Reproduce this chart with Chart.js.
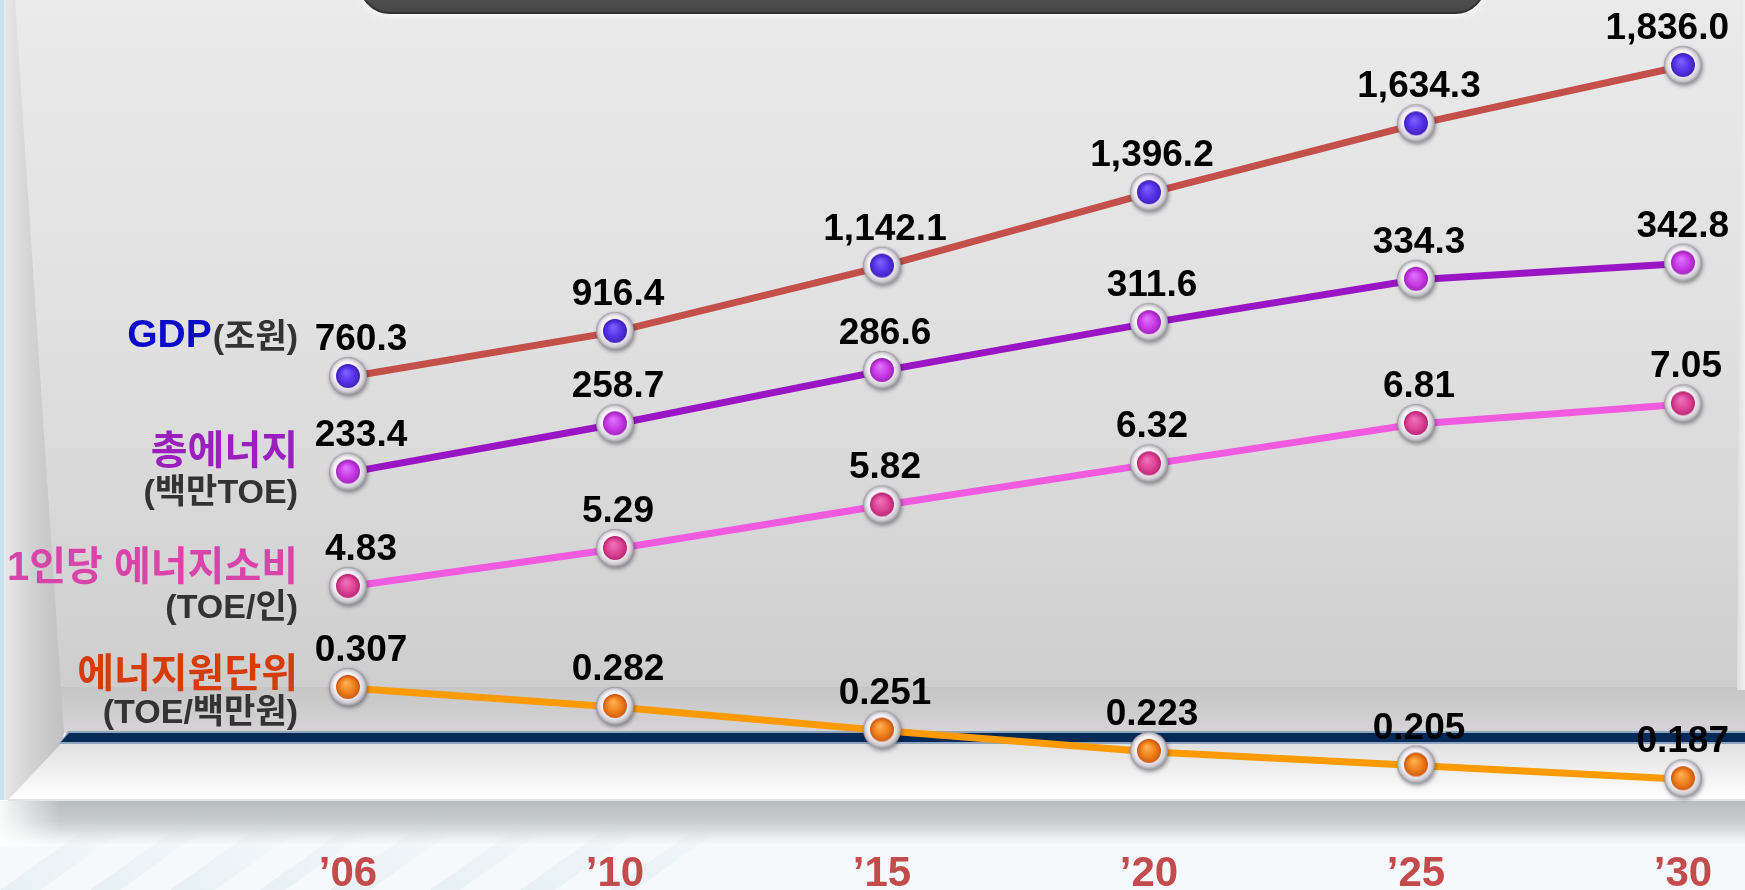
<!DOCTYPE html>
<html>
<head>
<meta charset="utf-8">
<script src="https://cdn.jsdelivr.net/npm/chart.js@4/dist/chart.umd.min.js"></script>
<style>
  html, body { margin: 0; padding: 0; background: #ffffff; overflow: hidden; }
  #wrap { width: 1745px; height: 890px; position: relative; }
  canvas { display: block; }
</style>
</head>
<body>
<div id="wrap"><canvas id="c" width="1745" height="890" style="width:1745px;height:890px"></canvas></div>
<script>
// ---------- data ----------
const years = ['’06', '’10', '’15', '’20', '’25', '’30'];
const gdp = [760.3, 916.4, 1142.1, 1396.2, 1634.3, 1836.0];          // 조원
const totalEnergy = [233.4, 258.7, 286.6, 311.6, 334.3, 342.8];      // 백만TOE
const perCapita = [4.83, 5.29, 5.82, 6.32, 6.81, 7.05];              // TOE/인
const intensity = [0.307, 0.282, 0.251, 0.223, 0.205, 0.187];        // TOE/백만원
const decimals = [1, 1, 2, 3];

const LATIN = '"Liberation Sans", Arial, sans-serif';
const KR = '"Liberation Sans", "Noto Sans CJK KR", sans-serif';

// ---------- glossy marker images ----------
function makeMarker(c1, c2, c3) {
  const s = 48, cv = document.createElement('canvas');
  cv.width = s; cv.height = s;
  const g = cv.getContext('2d');
  const cx = 24, cy = 23, R = 19;
  g.save();
  g.shadowColor = 'rgba(0,0,0,0.4)'; g.shadowBlur = 4; g.shadowOffsetX = 1; g.shadowOffsetY = 2;
  const rg = g.createRadialGradient(cx - 3, cy - 5, 2, cx, cy, R);
  rg.addColorStop(0, '#ffffff'); rg.addColorStop(0.62, '#f4f1f7'); rg.addColorStop(0.85, '#d0ced4'); rg.addColorStop(1, '#94949a');
  g.fillStyle = rg; g.beginPath(); g.arc(cx, cy, R, 0, Math.PI * 2); g.fill();
  g.restore();
  const ig = g.createRadialGradient(cx - 2, cy - 4, 1, cx, cy + 1, 12.5);
  ig.addColorStop(0, c1); ig.addColorStop(0.55, c2); ig.addColorStop(1, c3);
  g.fillStyle = ig; g.beginPath(); g.arc(cx, cy, 12, 0, Math.PI * 2); g.fill();
  return cv;
}
const mGdp = makeMarker('#7a60ff', '#5733e8', '#3d1fb4');
const mEnergy = makeMarker('#e070ff', '#c93be6', '#9a1fb5');
const mPer = makeMarker('#f070b8', '#de4598', '#b5226c');
const mInt = makeMarker('#ffae50', '#f0801c', '#c95410');

// ---------- scenery (drawn behind the chart) ----------
const scenery = {
  id: 'scenery',
  beforeDraw(chart) {
    const ctx = chart.ctx, W = chart.width, H = chart.height;
    ctx.save();
    ctx.fillStyle = '#ffffff'; ctx.fillRect(0, 0, W, H);
    // back wall
    let g = ctx.createLinearGradient(0, 0, 0, 690);
    g.addColorStop(0, '#eaeaea'); g.addColorStop(0.5, '#e0e0e0'); g.addColorStop(1, '#cecece');
    ctx.fillStyle = g; ctx.fillRect(0, 0, W, 690);
    g = ctx.createLinearGradient(0, 687, 0, 733);
    g.addColorStop(0, '#c6c6c6'); g.addColorStop(1, '#d6d4d6');
    ctx.fillStyle = g; ctx.fillRect(0, 687, W, 46);
    // floor
    g = ctx.createLinearGradient(0, 743, 0, 800);
    g.addColorStop(0, '#e0e0e0'); g.addColorStop(0.7, '#f6f6f6'); g.addColorStop(1, '#ffffff');
    ctx.fillStyle = g;
    ctx.beginPath(); ctx.moveTo(62, 743); ctx.lineTo(W, 743); ctx.lineTo(W, 800); ctx.lineTo(8, 800); ctx.closePath(); ctx.fill();
    // left side wall
    g = ctx.createLinearGradient(0, 0, 70, 0);
    g.addColorStop(0, '#ececec'); g.addColorStop(0.45, '#d2d2d2'); g.addColorStop(1, '#bdbdbd');
    ctx.fillStyle = g;
    ctx.beginPath(); ctx.moveTo(0, 0); ctx.lineTo(15, 0); ctx.lineTo(64, 733); ctx.lineTo(62, 743); ctx.lineTo(8, 800); ctx.lineTo(0, 800); ctx.closePath(); ctx.fill();
    ctx.fillStyle = '#c4e2f2'; ctx.fillRect(0, 0, 4, 800);
    // right side sliver
    g = ctx.createLinearGradient(1730, 0, 1745, 0);
    g.addColorStop(0, '#d2d2d2'); g.addColorStop(1, '#eeeeee');
    ctx.fillStyle = g;
    ctx.beginPath(); ctx.moveTo(1741, 0); ctx.lineTo(W, 0); ctx.lineTo(W, 690); ctx.lineTo(1737, 690); ctx.closePath(); ctx.fill();
    // navy base line
    ctx.fillStyle = '#8ea4bf';
    ctx.beginPath(); ctx.moveTo(68, 731); ctx.lineTo(W, 731); ctx.lineTo(W, 744); ctx.lineTo(59, 744); ctx.closePath(); ctx.fill();
    ctx.fillStyle = '#062a58';
    ctx.beginPath(); ctx.moveTo(69, 733); ctx.lineTo(W, 733); ctx.lineTo(W, 742); ctx.lineTo(61, 742); ctx.closePath(); ctx.fill();
    // floor edge + shadow band
    ctx.fillStyle = '#e4e4e4'; ctx.fillRect(8, 799, W, 2);
    g = ctx.createLinearGradient(0, 801, 0, 846);
    g.addColorStop(0, '#b8bdbe'); g.addColorStop(0.45, '#c9cdce'); g.addColorStop(1, '#fbfcfd');
    ctx.fillStyle = g; ctx.fillRect(0, 801, W, 45);
    const fade = ctx.createLinearGradient(0, 0, 60, 0);
    fade.addColorStop(0, 'rgba(255,255,255,0.9)'); fade.addColorStop(1, 'rgba(255,255,255,0)');
    ctx.fillStyle = fade; ctx.fillRect(0, 801, 60, 45);
    ctx.fillStyle = '#f6f9fb'; ctx.fillRect(0, 846, W, H - 846);
    // light blue streaks bottom-left
    ctx.globalAlpha = 0.22;
    const streaks = [[0, 40], [90, 30], [170, 45], [260, 25], [330, 40], [430, 30], [520, 35], [610, 25]];
    streaks.forEach(([x, w]) => {
      const sg = ctx.createLinearGradient(x, 890, x + 120, 810);
      sg.addColorStop(0, '#a9cfe0'); sg.addColorStop(1, 'rgba(169,207,224,0)');
      ctx.fillStyle = sg;
      ctx.beginPath(); ctx.moveTo(x, H); ctx.lineTo(x + w, H); ctx.lineTo(x + w + 110, 812); ctx.lineTo(x + 110, 812); ctx.closePath(); ctx.fill();
    });
    ctx.globalAlpha = 1;
    // title box (top, cut off)
    ctx.save();
    ctx.shadowColor = 'rgba(255,255,255,0.9)'; ctx.shadowBlur = 8; ctx.shadowOffsetY = 3;
    g = ctx.createLinearGradient(0, -40, 0, 14);
    g.addColorStop(0, '#626262'); g.addColorStop(1, '#464646');
    ctx.fillStyle = g;
    ctx.beginPath();
    if (ctx.roundRect) ctx.roundRect(360, -50, 1125, 63, 30); else ctx.rect(360, -50, 1125, 63);
    ctx.fill();
    ctx.restore();
    ctx.strokeStyle = '#333333'; ctx.lineWidth = 2;
    ctx.beginPath();
    if (ctx.roundRect) ctx.roundRect(360, -50, 1125, 63, 30); else ctx.rect(360, -50, 1125, 63);
    ctx.stroke();
    ctx.restore();
  }
};

// ---------- value labels ----------
const valueLabels = {
  id: 'valueLabels',
  afterDatasetsDraw(chart) {
    const ctx = chart.ctx;
    ctx.save();
    ctx.font = 'bold 37px ' + LATIN;
    ctx.fillStyle = '#000000';
    ctx.textAlign = 'center';
    ctx.textBaseline = 'alphabetic';
    chart.data.datasets.forEach((ds, i) => {
      const meta = chart.getDatasetMeta(i);
      const d = decimals[i];
      meta.data.forEach((pt, j) => {
        const txt = ds.data[j].toLocaleString('en-US', { minimumFractionDigits: d, maximumFractionDigits: d });
        const w = ctx.measureText(txt).width;
        let x = pt.x + (j === 0 ? 13 : 3);
        if (x + w / 2 > chart.width - 16) x = chart.width - 16 - w / 2;
        ctx.fillText(txt, x, pt.y - 27);
      });
    });
    ctx.restore();
  }
};

// ---------- series names on the left ----------
const seriesNames = {
  id: 'seriesNames',
  afterDraw(chart) {
    const ctx = chart.ctx, RX = 298;
    ctx.save();
    ctx.textAlign = 'right';
    ctx.textBaseline = 'middle';
    // GDP(조원)
    ctx.font = 'bold 34px ' + KR;
    const u = '(조원)';
    const uw = ctx.measureText(u).width;
    ctx.fillStyle = '#333333'; ctx.fillText(u, RX, 339);
    ctx.font = 'bold 39px ' + LATIN;
    ctx.fillStyle = '#0a0ac8'; ctx.fillText('GDP', RX - uw - 1, 336);
    const rows = [
      ['총에너지', '#9b1fbf', 40, 453],
      ['(백만TOE)', '#333333', 34, 494],
      ['1인당 에너지소비', '#d944aa', 40, 569],
      ['(TOE/인)', '#333333', 34, 609],
      ['에너지원단위', '#d63c08', 40, 676],
      ['(TOE/백만원)', '#333333', 34, 714]
    ];
    rows.forEach(([t, c, s, y]) => {
      ctx.font = 'bold ' + s + 'px ' + KR;
      ctx.fillStyle = c;
      ctx.fillText(t, RX, y);
    });
    ctx.restore();
  }
};

function lineSet(label, data, color, marker, axis) {
  return {
    label, data, yAxisID: axis,
    borderColor: color, borderWidth: 7, tension: 0, fill: false,
    pointStyle: marker, pointRadius: 19, pointHoverRadius: 19,
    clip: false
  };
}

new Chart(document.getElementById('c'), {
  type: 'line',
  data: {
    labels: years,
    datasets: [
      lineSet('GDP(조원)', gdp, '#c4504c', mGdp, 'yGdp'),
      lineSet('총에너지(백만TOE)', totalEnergy, '#9a16c4', mEnergy, 'yEnergy'),
      lineSet('1인당 에너지소비(TOE/인)', perCapita, '#f25ae0', mPer, 'yPer'),
      lineSet('에너지원단위(TOE/백만원)', intensity, '#ff9a00', mInt, 'yInt')
    ]
  },
  options: {
    responsive: false,
    animation: false,
    devicePixelRatio: 1,
    events: [],
    layout: { autoPadding: false, padding: { left: 348, right: 62, top: 0, bottom: -7 } },
    plugins: { legend: { display: false }, tooltip: { enabled: false }, title: { display: false } },
    scales: {
      x: {
        type: 'category', offset: false,
        grid: { display: false, drawTicks: false },
        border: { display: false },
        ticks: {
          color: '#c44b4b', padding: 2, maxRotation: 0, autoSkip: false,
          font: { family: LATIN, size: 42, weight: 'bold', lineHeight: 1.0 }
        }
      },
      yGdp: { display: false, min: -879.3, max: 2064.3 },
      yEnergy: { display: false, min: 35.4, max: 480.7 },
      yPer: { display: false, min: 1.616, max: 11.969 },
      yInt: { display: false, min: 0.0927, max: 1.2110 }
    }
  },
  plugins: [scenery, valueLabels, seriesNames]
});
</script>
</body>
</html>
